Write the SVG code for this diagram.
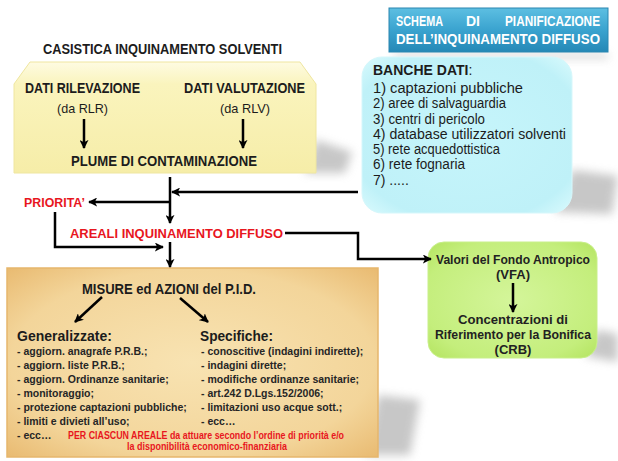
<svg xmlns="http://www.w3.org/2000/svg" width="618" height="461" viewBox="0 0 618 461">
<defs>
<style>
text{font-family:"Liberation Sans",Arial,sans-serif;fill:#1c1c1c}
.b{font-weight:bold}
.red{fill:#e8161e;font-weight:bold}
.w{fill:#ffffff;font-weight:bold}
.ln{fill:none;stroke:#000;stroke-width:2.5}
.lst{font-size:10.5px;font-weight:bold;fill:#262626}
.bd{font-size:14px;fill:#1c1c1c}
.g{font-size:13px;font-weight:bold;fill:#222}
</style>
<marker id="ah" viewBox="0 0 10 10" refX="9" refY="5" markerWidth="9" markerHeight="9" markerUnits="userSpaceOnUse" orient="auto">
<path d="M0,0 L10,5 L0,10 L2.5,5 Z" fill="#000"/>
</marker>
<linearGradient id="yel" x1="0" y1="0" x2="0" y2="1">
<stop offset="0" stop-color="#fefbe2"/>
<stop offset="0.2" stop-color="#faf4bd"/>
<stop offset="1" stop-color="#f6eda8"/>
</linearGradient>
<radialGradient id="tan" cx="0.5" cy="0.5" r="0.7">
<stop offset="0" stop-color="#f8e3b2"/>
<stop offset="0.7" stop-color="#f3d59a"/>
<stop offset="1" stop-color="#e9bb72"/>
</radialGradient>
<radialGradient id="cyan" cx="0.5" cy="0.5" r="0.7">
<stop offset="0" stop-color="#c6f5fb"/>
<stop offset="0.8" stop-color="#bff1f8"/>
<stop offset="1" stop-color="#d9fafd"/>
</radialGradient>
<radialGradient id="grn" cx="0.5" cy="0.5" r="0.7">
<stop offset="0" stop-color="#d4f59a"/>
<stop offset="0.75" stop-color="#c4ee7c"/>
<stop offset="1" stop-color="#b4e460"/>
</radialGradient>
<linearGradient id="blu" x1="0" y1="0" x2="0" y2="1">
<stop offset="0" stop-color="#5dbfe2"/>
<stop offset="0.5" stop-color="#3aa3cf"/>
<stop offset="1" stop-color="#2588b6"/>
</linearGradient>
<filter id="blur" x="-50%" y="-50%" width="200%" height="200%">
<feGaussianBlur stdDeviation="5"/>
</filter>
</defs>

<rect width="618" height="461" fill="#ffffff"/>

<g id="shadows" fill="#9a9a9a" opacity="0.55" filter="url(#blur)">
<polygon points="305,173 316,140 352,152 345,173"/>
<polygon points="555,212 572,170 618,176 612,214"/>
<polygon points="365,455 378,395 420,400 410,455"/>
<polygon points="585,356 597,330 618,334 618,362"/>
<polygon points="392,54 606,54 610,58 396,58"/>
</g>

<g id="title">
<text class="b" x="43" y="54" font-size="14" textLength="239" lengthAdjust="spacingAndGlyphs">CASISTICA INQUINAMENTO SOLVENTI</text>
</g>

<g id="header">
<rect x="389" y="8" width="219" height="44" fill="url(#blu)" stroke="#2a86b0" stroke-width="1"/>
<text class="w" x="396" y="26" font-size="14" textLength="47" lengthAdjust="spacingAndGlyphs">SCHEMA</text>
<text class="w" x="466" y="26" font-size="14" textLength="14" lengthAdjust="spacingAndGlyphs">DI</text>
<text class="w" x="505" y="26" font-size="14" textLength="95" lengthAdjust="spacingAndGlyphs">PIANIFICAZIONE</text>
<text class="w" x="396" y="44" font-size="14" textLength="204" lengthAdjust="spacingAndGlyphs">DELL’INQUINAMENTO DIFFUSO</text>
</g>

<g id="casistica">
<path d="M14,84 L30,62 L300,62 L316,84 L316,173 L14,173 Z" fill="url(#yel)" stroke="#efe6a0" stroke-width="1"/>
<text class="b" x="25" y="93" font-size="14" textLength="115" lengthAdjust="spacingAndGlyphs">DATI RILEVAZIONE</text>
<text x="57" y="113" font-size="13" textLength="51" lengthAdjust="spacingAndGlyphs">(da RLR)</text>
<text class="b" x="184" y="93" font-size="14" textLength="121" lengthAdjust="spacingAndGlyphs">DATI VALUTAZIONE</text>
<text x="220" y="113" font-size="13" textLength="50" lengthAdjust="spacingAndGlyphs">(da RLV)</text>
<text class="b" x="71" y="166" font-size="14" textLength="186" lengthAdjust="spacingAndGlyphs">PLUME DI CONTAMINAZIONE</text>
</g>

<g id="banche">
<rect x="362" y="57" width="210" height="156" rx="20" fill="url(#cyan)" stroke="#d6f7fb" stroke-width="1"/>
<text class="bd" x="373" y="75"><tspan font-weight="bold">BANCHE DATI</tspan>:</text>
<text class="bd" x="373" y="93" textLength="150" lengthAdjust="spacingAndGlyphs">1) captazioni pubbliche</text>
<text class="bd" x="373" y="108" textLength="133" lengthAdjust="spacingAndGlyphs">2) aree di salvaguardia</text>
<text class="bd" x="373" y="124" textLength="112" lengthAdjust="spacingAndGlyphs">3) centri di pericolo</text>
<text class="bd" x="373" y="139" textLength="193" lengthAdjust="spacingAndGlyphs">4) database utilizzatori solventi</text>
<text class="bd" x="373" y="154" textLength="127" lengthAdjust="spacingAndGlyphs">5) rete acquedottistica</text>
<text class="bd" x="373" y="169" textLength="92" lengthAdjust="spacingAndGlyphs">6) rete fognaria</text>
<text class="bd" x="373" y="185">7) .....</text>
</g>

<g id="priorita">
<text class="red" x="24" y="207" font-size="13" textLength="61" lengthAdjust="spacingAndGlyphs">PRIORITA’</text>
</g>

<g id="areali">
<text class="red" x="70" y="238" font-size="13" textLength="213" lengthAdjust="spacingAndGlyphs">AREALI INQUINAMENTO DIFFUSO</text>
</g>

<g id="misure">
<rect x="7" y="268" width="371" height="189" fill="url(#tan)" stroke="#e6b66c" stroke-width="1.5"/>
<text class="b" x="82" y="294" font-size="15" textLength="174" lengthAdjust="spacingAndGlyphs">MISURE ed AZIONI del P.I.D.</text>
<text class="b" x="17" y="341" font-size="15.5" textLength="95" lengthAdjust="spacingAndGlyphs">Generalizzate:</text>
<text class="b" x="200" y="341" font-size="15.5" textLength="73" lengthAdjust="spacingAndGlyphs">Specifiche:</text>
<text class="lst" x="17" y="355">- aggiorn. anagrafe P.R.B.;</text>
<text class="lst" x="17" y="369">- aggiorn. liste P.R.B.;</text>
<text class="lst" x="17" y="383">- aggiorn. Ordinanze sanitarie;</text>
<text class="lst" x="17" y="397">- monitoraggio;</text>
<text class="lst" x="17" y="411">- protezione captazioni pubbliche;</text>
<text class="lst" x="17" y="425">- limiti e divieti all’uso;</text>
<text class="lst" x="17" y="439">- ecc…</text>
<text class="lst" x="201" y="355">- conoscitive (indagini indirette);</text>
<text class="lst" x="201" y="369">- indagini dirette;</text>
<text class="lst" x="201" y="383">- modifiche ordinanze sanitarie;</text>
<text class="lst" x="201" y="397">- art.242 D.Lgs.152/2006;</text>
<text class="lst" x="201" y="411">- limitazioni uso acque sott.;</text>
<text class="lst" x="201" y="425">- ecc…</text>
<text class="red" x="68" y="439" font-size="10" textLength="276" lengthAdjust="spacingAndGlyphs">PER CIASCUN AREALE da attuare secondo l’ordine di priorità e/o</text>
<text class="red" x="127" y="450" font-size="10" textLength="160" lengthAdjust="spacingAndGlyphs">la disponibilità economico-finanziaria</text>
</g>

<g id="vfa">
<rect x="428" y="242" width="169" height="116" rx="16" fill="url(#grn)" stroke="#c8ef8a" stroke-width="1"/>
<text class="g" x="513" y="264" text-anchor="middle" textLength="154" lengthAdjust="spacingAndGlyphs">Valori del Fondo Antropico</text>
<text class="g" x="513" y="279" text-anchor="middle">(VFA)</text>
<text class="g" x="513" y="324" text-anchor="middle" textLength="110" lengthAdjust="spacingAndGlyphs">Concentrazioni di</text>
<text class="g" x="513" y="339" text-anchor="middle" textLength="156" lengthAdjust="spacingAndGlyphs">Riferimento per la Bonifica</text>
<text class="g" x="513" y="354" text-anchor="middle">(CRB)</text>
</g>

<g id="connectors">
<line class="ln" x1="84" y1="119" x2="84" y2="148" marker-end="url(#ah)"/>
<line class="ln" x1="243" y1="119" x2="243" y2="148" marker-end="url(#ah)"/>
<line class="ln" x1="170" y1="177" x2="170" y2="223" marker-end="url(#ah)"/>
<line class="ln" x1="358" y1="192" x2="172" y2="192" marker-end="url(#ah)"/>
<line class="ln" x1="170" y1="202" x2="89" y2="202" marker-end="url(#ah)"/>
<polyline class="ln" points="55,212 55,247 163,247" marker-end="url(#ah)"/>
<line class="ln" x1="170" y1="242" x2="170" y2="267" marker-end="url(#ah)"/>
<polyline class="ln" points="285,233 358,233 358,259 431,259" marker-end="url(#ah)"/>
<line class="ln" x1="513" y1="283" x2="513" y2="312" marker-end="url(#ah)"/>
<line class="ln" x1="102" y1="297" x2="75" y2="322" marker-end="url(#ah)"/>
<line class="ln" x1="180" y1="298" x2="208" y2="322" marker-end="url(#ah)"/>
</g>
</svg>
